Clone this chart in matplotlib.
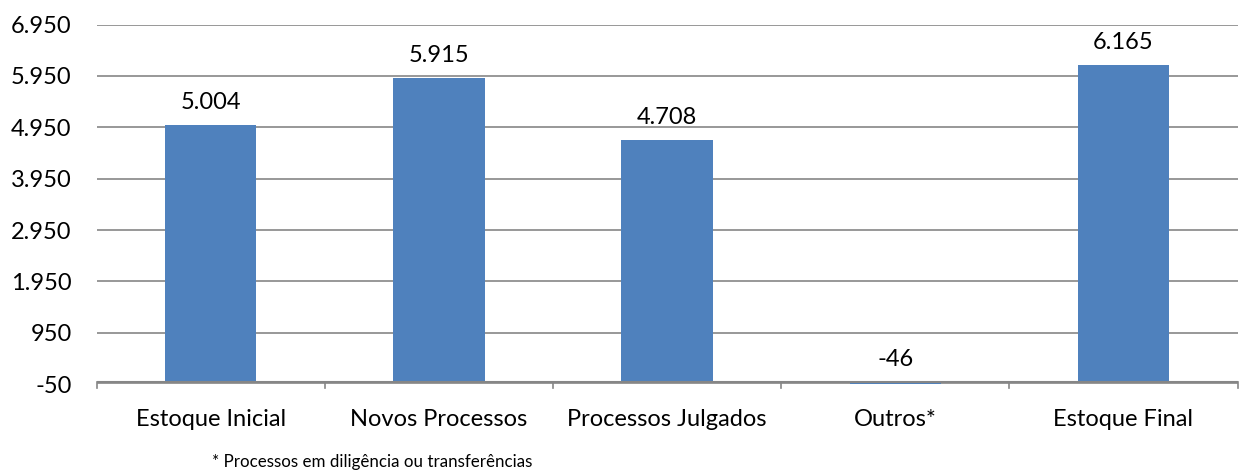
import matplotlib.pyplot as plt
import numpy as np

categorias = ["Estoque Inicial", "Novos Processos", "Processos Julgados", "Outros*", "Estoque Final"]
valores = [5004, 5915, 4708, -46, 6165]
ticks_y = [-50, 950, 1950, 2950, 3950, 4950, 5950, 6950]


def fmt_br(v):
    return f"{v:,.0f}".replace(",", ".")


plt.rcParams['font.family'] = ['Lato', 'DejaVu Sans']
fs = 17

fig = plt.figure(figsize=(12.4, 4.72), dpi=100)
ax = fig.add_axes([0.078, 0.186, 0.92, 0.762])

x = np.arange(len(categorias))
ax.bar(x, valores, width=0.4, color='#4F81BD', zorder=3)

for xi, v in zip(x, valores):
    y_txt = max(v, 0) + 230
    ax.text(xi, y_txt, fmt_br(v), ha='center', va='bottom', fontsize=fs, color='black')

ax.set_xlim(-0.5, len(categorias) - 0.5)
ax.set_ylim(-50, 6950)
ax.set_yticks(ticks_y)
ax.set_yticklabels([fmt_br(t) for t in ticks_y], fontsize=fs)
ax.yaxis.grid(True, color='#868686', linewidth=1.2, zorder=0)
ax.tick_params(axis='y', length=0, pad=18)

# category axis drawn at zero, ticks between categories
ax.axhline(0, color='#868686', linewidth=1.5, zorder=4)
ax.set_xticks(x)
ax.set_xticklabels(categorias, fontsize=fs)
ax.tick_params(axis='x', length=0, pad=18)
for b in np.arange(-0.5, len(categorias), 1.0):
    ax.plot([b, b], [0, -130], color='#868686', linewidth=1.2, clip_on=False, zorder=4)

for s in ax.spines.values():
    s.set_visible(False)

fig.text(0.171, 0.004, "* Processos em diligência ou transferências", fontsize=12.2, ha='left', va='bottom')

fig.savefig("out.png", dpi=100)
